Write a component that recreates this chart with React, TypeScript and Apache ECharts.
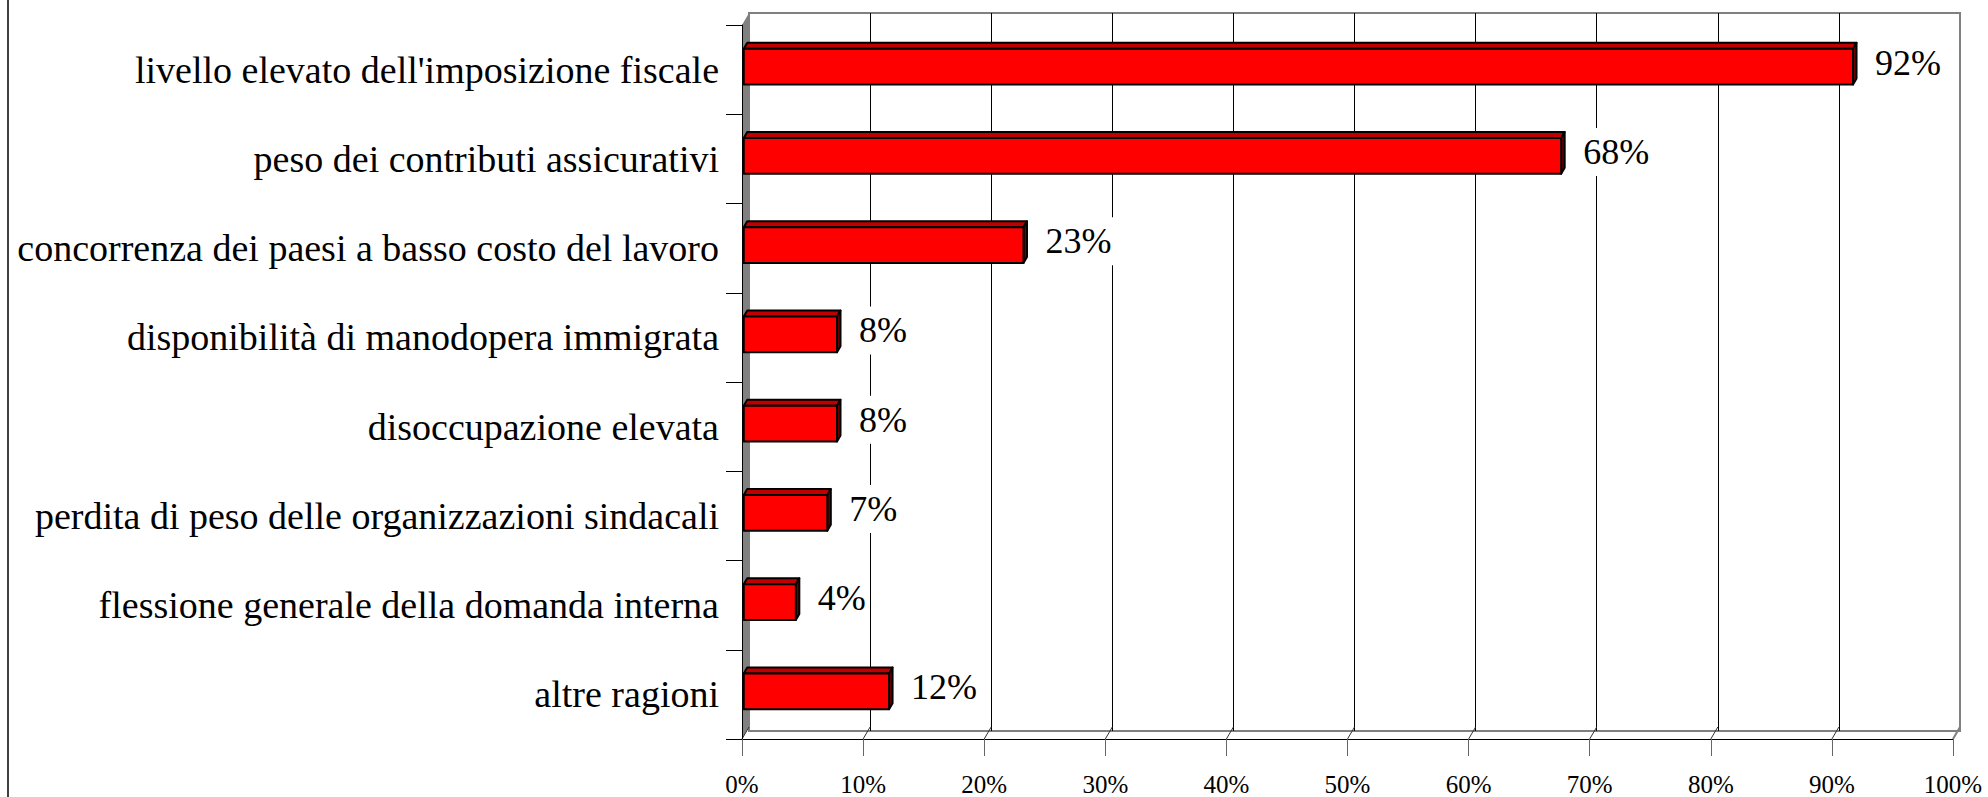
import React, { useEffect, useRef } from "react";
import * as echarts from "echarts";

const CATEGORIES = [
  "livello elevato dell'imposizione fiscale",
  "peso dei contributi assicurativi",
  "concorrenza dei paesi a basso costo del lavoro",
  "disponibilità di manodopera immigrata",
  "disoccupazione elevata",
  "perdita di peso delle organizzazioni sindacali",
  "flessione generale della domanda interna",
  "altre ragioni",
];
const VALUES = [91.6, 67.5, 23.1, 7.7, 7.7, 6.9, 4.3, 12.0];
const X_TICKS = [0, 10, 20, 30, 40, 50, 60, 70, 80, 90, 100];

const FONT = "'Liberation Serif', 'Times New Roman', serif";
const DEPTH_X = 7;
const DEPTH_Y = 12;

export default function App() {
  const ref = useRef<HTMLDivElement>(null);

  useEffect(() => {
    if (!ref.current) return;
    const chart = echarts.init(ref.current, undefined, { renderer: "svg" });

    const decorSeries = {
      type: "custom",
      xAxisIndex: 0,
      yAxisIndex: 0,
      z: 1,
      silent: true,
      data: X_TICKS.map((v) => [v, 0]),
      renderItem: (params: any, api: any) => {
        const cs = params.coordSys;
        const v = api.value(0);
        const x = api.coord([v, 0])[0];
        const yb = cs.y + cs.height;
        const children: any[] = [];
        if (v === 0) {
          children.push({
            type: "polygon",
            shape: {
              points: [
                [x, cs.y],
                [x + DEPTH_X, cs.y - DEPTH_Y],
                [x + DEPTH_X, yb - DEPTH_Y],
                [x, yb],
              ],
            },
            style: { fill: "#808080", stroke: "none" },
          });
        }
        children.push({
          type: "line",
          shape: { x1: x, y1: yb, x2: x + DEPTH_X, y2: yb - DEPTH_Y },
          style: { stroke: v === 100 ? "#808080" : "#333", lineWidth: v === 100 ? 2 : 1 },
        });
        return { type: "group", children };
      },
    };

    const barSeries = {
      type: "custom",
      xAxisIndex: 0,
      yAxisIndex: 0,
      z: 6,
      data: VALUES.map((v, i) => [v, i]),
      renderItem: (params: any, api: any) => {
        const val = api.value(0);
        const idx = api.value(1);
        const p0 = api.coord([0, idx]);
        const p1 = api.coord([val, idx]);
        const band = api.size([0, 1])[1];
        const h = band * 0.4;
        const dx = DEPTH_X / 2;
        const dy = DEPTH_Y / 2;
        const x0 = p0[0] + DEPTH_X / 4;
        const x1 = p1[0] + DEPTH_X / 4;
        const cy = p1[1] - DEPTH_Y / 4;
        const t = cy - h / 2;
        const b = cy + h / 2;
        const stroke = { stroke: "#000", lineWidth: 2, lineJoin: "round" };
        return {
          type: "group",
          children: [
            {
              type: "polygon",
              shape: { points: [[x0, t], [x0 + dx, t - dy], [x1 + dx, t - dy], [x1, t]] },
              style: { fill: "#c00000", ...stroke },
            },
            {
              type: "polygon",
              shape: { points: [[x1, t], [x1 + dx, t - dy], [x1 + dx, b - dy], [x1, b]] },
              style: { fill: "#700000", ...stroke },
            },
            {
              type: "rect",
              shape: { x: x0, y: t, width: x1 - x0, height: h },
              style: { fill: "#ff0000", ...stroke },
            },
            {
              type: "text",
              x: x1 + 18,
              y: p1[1] - 7,
              style: {
                text: Math.round(val) + "%",
                fill: "#000",
                fontSize: 36,
                fontFamily: FONT,
                align: "left",
                verticalAlign: "middle",
                backgroundColor: "#ffffff",
                padding: [6, 4],
              },
            },
          ],
        };
      },
    };

    chart.setOption({
      animation: false,
      backgroundColor: "#ffffff",
      grid: [
        { left: 742, right: 35, top: 25, bottom: 54 },
        {
          left: 749,
          right: 28,
          top: 13,
          bottom: 66,
          show: true,
          borderColor: "#808080",
          borderWidth: 2,
          backgroundColor: "transparent",
        },
      ],
      xAxis: [
        {
          gridIndex: 0,
          type: "value",
          min: 0,
          max: 100,
          interval: 10,
          z: 5,
          axisLine: { show: true, lineStyle: { color: "#000", width: 1 } },
          axisTick: { show: true, length: 17, lineStyle: { color: "#666", width: 1 } },
          axisLabel: {
            formatter: "{value}%",
            fontSize: 25,
            fontFamily: FONT,
            color: "#000",
            margin: 33,
          },
          splitLine: { show: false },
        },
        {
          gridIndex: 1,
          type: "value",
          min: 0,
          max: 100,
          interval: 10,
          axisLine: { show: false },
          axisTick: { show: false },
          axisLabel: { show: false },
          splitLine: {
            show: true,
            showMinLine: false,
            showMaxLine: false,
            lineStyle: { color: "#000", width: 1 },
          },
        },
      ],
      yAxis: [
        {
          gridIndex: 0,
          type: "category",
          inverse: true,
          data: CATEGORIES,
          z: 5,
          axisLine: { show: true, lineStyle: { color: "#000", width: 1 } },
          axisTick: { show: true, length: 16, lineStyle: { color: "#000", width: 1 } },
          axisLabel: {
            fontSize: 38,
            fontFamily: FONT,
            color: "#000",
            margin: 23,
          },
        },
        { gridIndex: 1, type: "value", show: false },
      ],
      graphic: [
        {
          type: "line",
          shape: { x1: 8, y1: 0, x2: 8, y2: 797 },
          style: { stroke: "#404040", lineWidth: 2 },
        },
      ],
      series: [decorSeries, barSeries],
    });

    return () => chart.dispose();
  }, []);

  return (
    <div
      ref={ref}
      style={{ position: "fixed", left: 0, top: 0, width: 1988, height: 797, background: "#fff" }}
    />
  );
}
